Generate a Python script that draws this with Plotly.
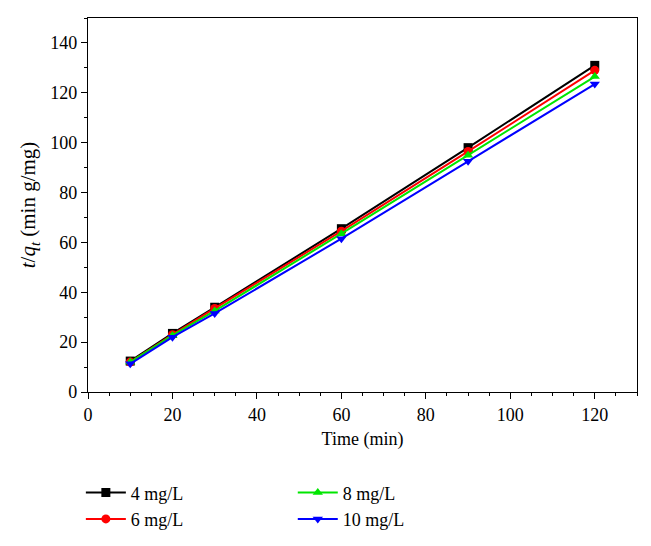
import plotly.graph_objects as go

time = [10, 20, 30, 60, 90, 120]
s4 = [12.4, 23.5, 34.0, 65.5, 98.0, 131.0]
s6 = [12.0, 23.0, 33.5, 64.5, 96.5, 129.0]
s8 = [12.0, 22.7, 32.5, 63.5, 95.0, 126.5]
s10 = [11.3, 22.0, 31.5, 61.5, 92.5, 123.5]
names = ["4 mg/L", "6 mg/L", "8 mg/L", "10 mg/L"]
colors = ["#000000", "#ff0000", "#00e600", "#0000ff"]
symbols = ["square", "circle", "triangle-up", "triangle-down"]
legends = ["legend", "legend", "legend2", "legend2"]

fig = go.Figure()
for ys, n, c, s, lg in zip([s4, s6, s8, s10], names, colors, symbols, legends):
    fig.add_trace(go.Scatter(x=time, y=ys, name=n, mode="lines+markers",
                             line=dict(color=c, width=2),
                             marker=dict(symbol=s, size=9, color=c),
                             legend=lg))

font = dict(family="Liberation Serif", size=18, color="#000")
axis_common = dict(showline=True, linecolor="#000", linewidth=1.2, mirror=True,
                   ticks="outside", ticklen=6, tickcolor="#000", showgrid=False,
                   zeroline=False, tickfont=font, automargin=False,
                   minor=dict(ticks="outside", ticklen=3, tickcolor="#000"))
fig.update_layout(
    width=651, height=546, plot_bgcolor="white", paper_bgcolor="white",
    margin=dict(l=80, r=22, t=10, b=162),
    font=font,
    xaxis=dict(range=[0, 130], dtick=20, title=dict(text="Time (min)", font=font, standoff=8), **axis_common),
    yaxis=dict(range=[0, 150], dtick=20, tickvals=list(range(0, 141, 20)),
               title=dict(text="<i>t</i>/<i>q<sub>t</sub></i> (min g/mg)", font=dict(family="Liberation Serif", size=21, color="#000"), standoff=8), **axis_common),
    legend=dict(x=-0.013, y=-0.22, xanchor="left", yanchor="top", bgcolor="rgba(0,0,0,0)",
                font=font, tracegroupgap=0, itemwidth=40),
    legend2=dict(x=0.373, y=-0.22, xanchor="left", yanchor="top", bgcolor="rgba(0,0,0,0)",
                 font=font, tracegroupgap=0, itemwidth=40),
)
fig.write_html("out.html")
